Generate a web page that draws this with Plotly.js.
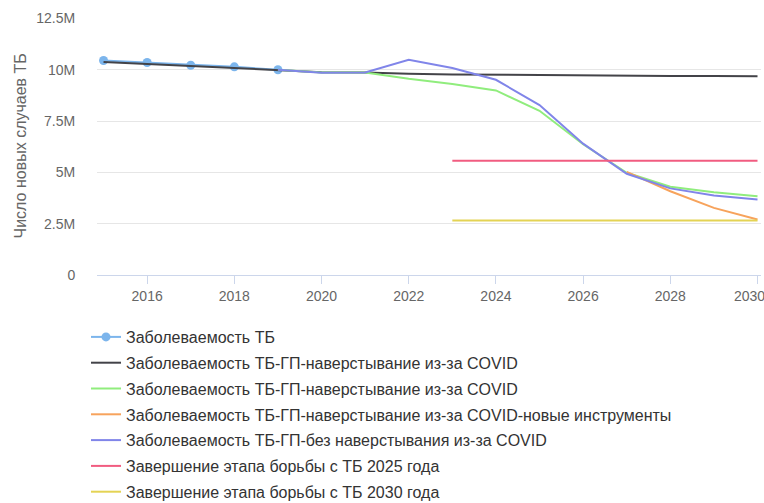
<!DOCTYPE html>
<html>
<head>
<meta charset="utf-8">
<script src="https://cdn.plot.ly/plotly-3.0.1.min.js"></script>
<style>
html,body{margin:0;padding:0;background:#fff;}
#chart{width:764px;height:503px;}
</style>
</head>
<body>
<div id="chart"></div>
<script>
const years = [2015,2016,2017,2018,2019,2020,2021,2022,2023,2024,2025,2026,2027,2028,2029,2030];

const seriesNames = [
  "Заболеваемость ТБ",
  "Заболеваемость ТБ-ГП-наверстывание из-за COVID",
  "Заболеваемость ТБ-ГП-наверстывание из-за COVID",
  "Заболеваемость ТБ-ГП-наверстывание из-за COVID-новые инструменты",
  "Заболеваемость ТБ-ГП-без наверстывания из-за COVID",
  "Завершение этапа борьбы с ТБ 2025 года",
  "Завершение этапа борьбы с ТБ 2030 года"
];

const incidence   = [10.45e6,10.35e6,10.22e6,10.14e6,10.0e6,null,null,null,null,null,null,null,null,null,null,null];
const gpCatchup   = [10.38e6,10.28e6,10.18e6,10.09e6,10.0e6,9.88e6,9.87e6,9.80e6,9.77e6,9.75e6,9.73e6,9.72e6,9.71e6,9.70e6,9.69e6,9.68e6];
const gpCatchup2  = [null,null,null,null,10.0e6,9.86e6,9.87e6,9.56e6,9.31e6,8.99e6,8.0e6,6.37e6,4.98e6,4.30e6,4.03e6,3.84e6];
const gpNewTools  = [null,null,null,null,null,null,null,null,null,null,null,null,5.02e6,4.08e6,3.27e6,2.70e6];
const gpNoCatchup = [null,null,null,null,10.0e6,9.85e6,9.87e6,10.49e6,10.08e6,9.51e6,8.28e6,6.40e6,4.93e6,4.22e6,3.87e6,3.68e6];
const milestone2025 = [null,null,null,null,null,null,null,null,5.57e6,5.57e6,5.57e6,5.57e6,5.57e6,5.57e6,5.57e6,5.57e6];
const milestone2030 = [null,null,null,null,null,null,null,null,2.66e6,2.66e6,2.66e6,2.66e6,2.66e6,2.66e6,2.66e6,2.66e6];

const yTickVals = [0,2.5e6,5e6,7.5e6,10e6,12.5e6];
const yTickText = ["0","2.5M","5M","7.5M","10M","12.5M"];
const xTickVals = [2016,2018,2020,2022,2024,2026,2028,2030];
const xTickText = ["2016","2018","2020","2022","2024","2026","2028","2030"];
const yTitle = "Число новых случаев ТБ";

const colors = ["#7cb5ec","#434348","#90ed7d","#f7a35c","#8085e9","#f15c80","#e4d354"];
const values = [incidence,gpCatchup,gpCatchup2,gpNewTools,gpNoCatchup,milestone2025,milestone2030];

const traces = values.map((v,i)=>({
  type:'scatter',
  x: years,
  y: v,
  name: seriesNames[i],
  legendgroup: 'g'+i,
  mode: i===0 ? 'lines+markers' : 'lines',
  line: {color: colors[i], width: 2},
  marker: {color: colors[i], size: 9},
  connectgaps: false,
  hoverinfo: 'x+y+name'
}));

const font = "'Liberation Sans', Arial, Helvetica, sans-serif";

// last x label is shifted inward (as the original does) so it fits the frame
const lastIdx = xTickVals.length - 1;
const axisTickText = xTickText.map((t,i)=> i===lastIdx ? '' : t);

const layout = {
  width: 764,
  height: 503,
  margin: {l:97, r:3, t:17.5, b:228, autoexpand:false},
  paper_bgcolor: '#fff',
  plot_bgcolor: '#fff',
  font: {family: font, color: '#666666', size: 14},
  showlegend: true,
  legend: {
    xref: 'container', yref: 'container',
    x: 86/764, y: 1 - 320/503,
    xanchor: 'left', yanchor: 'top',
    orientation: 'v',
    font: {family: font, size: 16, color: '#333333'},
    tracegroupgap: 2,
    itemwidth: 30,
    bgcolor: 'rgba(0,0,0,0)'
  },
  xaxis: {
    range: [2014.85, 2030.08],
    tickvals: xTickVals,
    ticktext: axisTickText,
    ticks: 'outside',
    ticklen: 8,
    tickcolor: '#ccd6eb',
    tickwidth: 1,
    showline: true,
    linecolor: '#ccd6eb',
    linewidth: 1,
    showgrid: false,
    zeroline: false,
    ticklabeloverflow: 'allow',
    tickfont: {size: 14, color: '#666666'},
    fixedrange: true
  },
  yaxis: {
    range: [0, 12.52e6],
    tickvals: yTickVals,
    ticktext: yTickText,
    ticks: 'outside',
    ticklen: 18,
    tickcolor: 'rgba(0,0,0,0)',
    showgrid: true,
    gridcolor: '#e6e6e6',
    gridwidth: 1,
    zeroline: false,
    showline: false,
    automargin: false,
    ticklabeloverflow: 'allow',
    tickfont: {size: 14, color: '#666666'},
    fixedrange: true
  },
  annotations: [{
    xref: 'paper', yref: 'paper',
    x: -77/664, y: 0.5,
    xanchor: 'center', yanchor: 'middle',
    text: yTitle,
    textangle: -90,
    showarrow: false,
    font: {family: font, size: 16, color: '#666666'}
  },{
    xref: 'x', yref: 'paper',
    x: xTickVals[lastIdx], y: 0,
    xanchor: 'right', yanchor: 'middle',
    xshift: 9, yshift: -21,
    text: xTickText[lastIdx],
    showarrow: false,
    font: {family: font, size: 14, color: '#666666'}
  }]
};

Plotly.newPlot('chart', traces, layout, {displayModeBar: false, staticPlot: true});
</script>
</body>
</html>
